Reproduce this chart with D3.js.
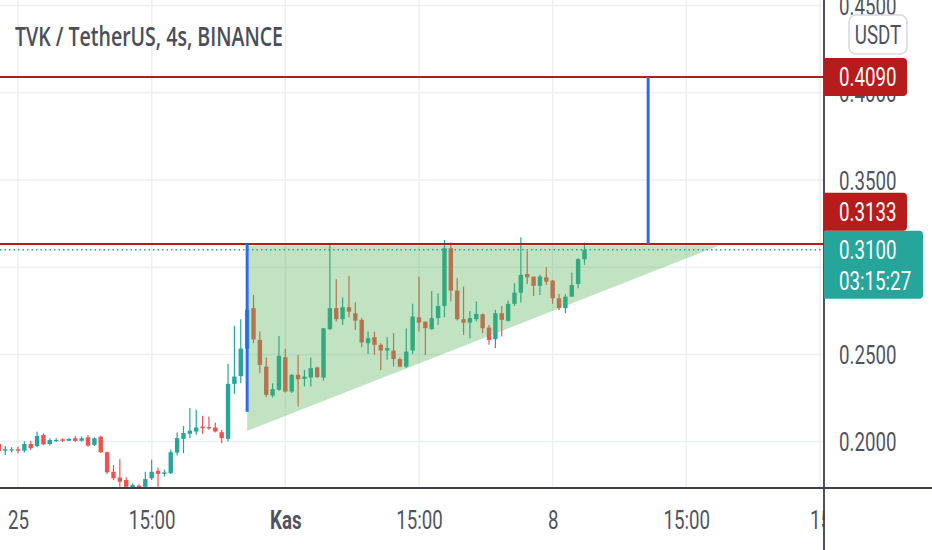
<!DOCTYPE html>
<html>
<head>
<meta charset="utf-8">
<script src="https://d3js.org/d3.v7.min.js"></script>
<style>
  body { margin: 0; background: #fff; }
  svg { display: block; }
</style>
</head>
<body>
<svg id="svg" width="932" height="550"></svg>
<script>
// candle data, 4h bars, index 0 = "Kas" bar
const startIndex = -45;
const opens = [0.1986,0.1948,0.1950,0.1956,0.1948,0.1986,0.1975,0.2038,0.1986,0.2004,0.2013,0.2005,0.2019,0.2005,0.2025,0.1981,0.2028,0.1939,0.1827,0.1794,0.1780,0.1736,0.1747,0.1741,0.1790,0.1832,0.1815,0.1819,0.1937,0.2016,0.2045,0.2058,0.2086,0.2083,0.2081,0.2054,0.2016,0.2331,0.2375,0.2533,0.2765,0.2583,0.2430,0.2264,0.2297,0.2484,0.2287,0.2383,0.2360,0.2367,0.2425,0.2367,0.2645,0.2765,0.2702,0.2771,0.2736,0.2698,0.2564,0.2599,0.2555,0.2522,0.2522,0.2473,0.2430,0.2522,0.2713,0.2688,0.2645,0.2708,0.2778,0.3109,0.2866,0.2702,0.2682,0.2702,0.2730,0.2654,0.2587,0.2736,0.2692,0.2790,0.2854,0.2961,0.2946,0.2893,0.2942,0.2923,0.2822,0.2765,0.2831,0.2904,0.3046];
const highs = [0.1998,0.1975,0.1967,0.1971,0.2002,0.2005,0.2057,0.2047,0.2019,0.2019,0.2019,0.2021,0.2034,0.2029,0.2038,0.2025,0.2034,0.1943,0.1866,0.1899,0.1795,0.1761,0.1755,0.1827,0.1896,0.1851,0.1838,0.1953,0.2052,0.2090,0.2192,0.2182,0.2148,0.2144,0.2109,0.2068,0.2446,0.2663,0.2702,0.2812,0.2841,0.2631,0.2482,0.2335,0.2606,0.2532,0.2388,0.2497,0.2411,0.2482,0.2430,0.2652,0.3130,0.2931,0.2826,0.2950,0.2799,0.2708,0.2631,0.2631,0.2564,0.2599,0.2622,0.2482,0.2648,0.2790,0.2946,0.2688,0.2864,0.2851,0.3156,0.3141,0.2937,0.2889,0.2749,0.2803,0.2735,0.2669,0.2755,0.2778,0.2807,0.2908,0.3172,0.3095,0.2946,0.2956,0.3000,0.2927,0.2847,0.2845,0.2969,0.3051,0.3141];
const lows = [0.1935,0.1923,0.1939,0.1933,0.1937,0.1952,0.1967,0.1980,0.1977,0.1997,0.1998,0.2004,0.1997,0.2000,0.1971,0.1975,0.1935,0.1814,0.1780,0.1741,0.1723,0.1723,0.1723,0.1723,0.1780,0.1741,0.1800,0.1814,0.1920,0.1934,0.2020,0.2039,0.2045,0.2068,0.2052,0.1991,0.2000,0.2274,0.2335,0.2514,0.2564,0.2392,0.2255,0.2253,0.2291,0.2281,0.2278,0.2201,0.2316,0.2316,0.2364,0.2350,0.2640,0.2688,0.2669,0.2713,0.2640,0.2541,0.2503,0.2497,0.2411,0.2469,0.2430,0.2427,0.2421,0.2503,0.2631,0.2497,0.2640,0.2669,0.2713,0.2803,0.2695,0.2612,0.2593,0.2688,0.2622,0.2555,0.2536,0.2602,0.2688,0.2778,0.2797,0.2904,0.2835,0.2841,0.2898,0.2790,0.2755,0.2736,0.2831,0.2879,0.3013];
const closes = [0.1946,0.1956,0.1956,0.1948,0.1986,0.1962,0.2032,0.1984,0.2009,0.2009,0.2005,0.2015,0.2004,0.2019,0.1977,0.2019,0.1939,0.1824,0.1790,0.1770,0.1741,0.1751,0.1739,0.1785,0.1827,0.1815,0.1823,0.1939,0.2020,0.2049,0.2063,0.2081,0.2077,0.2077,0.2058,0.2020,0.2331,0.2373,0.2533,0.2757,0.2587,0.2440,0.2268,0.2301,0.2492,0.2287,0.2383,0.2358,0.2373,0.2421,0.2370,0.2650,0.2765,0.2702,0.2771,0.2745,0.2694,0.2568,0.2593,0.2555,0.2522,0.2536,0.2473,0.2430,0.2516,0.2717,0.2682,0.2650,0.2708,0.2778,0.3109,0.2866,0.2702,0.2682,0.2708,0.2732,0.2650,0.2583,0.2736,0.2698,0.2790,0.2854,0.2956,0.2942,0.2893,0.2946,0.2917,0.2822,0.2765,0.2831,0.2898,0.3046,0.3100];

// axis ticks
const timeTicks = [-42, -21, 0, 21, 42, 63, 84];
const timeLabels = ["25", "15:00", "Kas", "15:00", "8", "15:00", "15"];
const priceTicks = [0.20, 0.25, 0.30, 0.35, 0.40, 0.45];
const priceLabelTicks = [0.20, 0.25, 0.35, 0.40, 0.45]; // 0.30 sits under the last-price tag

// drawings
const levels = [0.4090, 0.3133];
const lastPrice = 0.3100;
const countdown = "03:15:27";
const triangle = [[-6, 0.3125], [68.2, 0.3125], [-6, 0.2061]];
const blueLines = [[-6, 0.3133, 0.2171], [57, 0.4090, 0.3133]];
const title = "TVK / TetherUS, 4s, BINANCE";

const dims = { width: 932, height: 550 };
const plot = { right: 824, bottom: 488 };
const sx = 0.72; // text squeeze

const upColor = "#26a69a", downColor = "#ef5350";
const levelColor = "#b71c1c", blue = "#2f6be8";
const textColor = "#50535e";

let xScale = d3.scaleLinear().domain([-42, 84]).range([18, 820]);
let yScale = d3.scaleLinear().domain([0.20, 0.45]).range([441.6, 5.6]);

const candles = opens.map((o, k) => ({
    i: startIndex + k, o: o, h: highs[k], l: lows[k], c: closes[k]
}));

let mySvg = d3.select("#svg");
mySvg.append("rect").attr("width", dims.width).attr("height", dims.height).attr("fill", "#fff");

mySvg.append("defs").append("clipPath").attr("id", "plotclip")
    .append("rect").attr("width", plot.right).attr("height", plot.bottom);

let pane = mySvg.append("g").attr("clip-path", "url(#plotclip)");

// grid
pane.selectAll(".vgrid").data(timeTicks).enter().append("line")
    .attr("x1", d => xScale(d)).attr("x2", d => xScale(d))
    .attr("y1", 0).attr("y2", plot.bottom)
    .attr("stroke", "#eceff3").attr("stroke-width", 1.5);
pane.selectAll(".hgrid").data(priceTicks).enter().append("line")
    .attr("x1", 0).attr("x2", plot.right)
    .attr("y1", d => yScale(d)).attr("y2", d => yScale(d))
    .attr("stroke", "#eceff3").attr("stroke-width", 1.5);

// candles
let cg = pane.selectAll(".candle").data(candles).enter().append("g");
cg.append("line")
    .attr("x1", d => xScale(d.i)).attr("x2", d => xScale(d.i))
    .attr("y1", d => yScale(d.h)).attr("y2", d => yScale(d.l))
    .attr("stroke", d => d.c >= d.o ? upColor : downColor).attr("stroke-width", 1.2);
cg.append("rect")
    .attr("x", d => xScale(d.i) - 2.2).attr("width", 4.4)
    .attr("y", d => yScale(Math.max(d.o, d.c)))
    .attr("height", d => Math.max(1.2, Math.abs(yScale(d.o) - yScale(d.c))))
    .attr("fill", d => d.c >= d.o ? upColor : downColor);

// triangle pattern
pane.append("path")
    .attr("d", d3.line().x(d => xScale(d[0])).y(d => yScale(d[1]))(triangle) + "Z")
    .attr("fill", "#4caf50").attr("fill-opacity", 0.35);

// last price dotted line
pane.append("line")
    .attr("x1", 0).attr("x2", plot.right)
    .attr("y1", yScale(lastPrice)).attr("y2", yScale(lastPrice))
    .attr("stroke", upColor).attr("stroke-width", 1.5).attr("stroke-dasharray", "1.5,3");

// horizontal levels
pane.selectAll(".level").data(levels).enter().append("line")
    .attr("x1", 0).attr("x2", plot.right)
    .attr("y1", d => yScale(d)).attr("y2", d => yScale(d))
    .attr("stroke", levelColor).attr("stroke-width", 2);

// blue verticals
pane.selectAll(".vline").data(blueLines).enter().append("line")
    .attr("x1", d => xScale(d[0])).attr("x2", d => xScale(d[0]))
    .attr("y1", d => yScale(d[1])).attr("y2", d => yScale(d[2]))
    .attr("stroke", blue).attr("stroke-width", 3);

// time axis
let xAxis = d3.axisBottom(xScale).tickValues(timeTicks)
    .tickFormat((d, k) => timeLabels[k]).tickSize(0).tickPadding(0);
let xg = mySvg.append("g").attr("transform", `translate(0, ${plot.bottom})`).call(xAxis);
xg.select(".domain").remove();
xg.selectAll("text")
    .attr("y", 41).attr("dy", null)
    .attr("transform", `scale(${sx},1)`)
    .attr("fill", textColor)
    .style("font-family", "Roboto").style("font-size", "26px")
    .style("font-weight", (d, k) => timeLabels[k] === "Kas" ? 700 : 400);

// price scale panel
mySvg.append("rect").attr("x", plot.right + 0.5).attr("y", 0)
    .attr("width", dims.width - plot.right).attr("height", plot.bottom).attr("fill", "#fff");
mySvg.append("rect").attr("x", plot.right + 0.5).attr("y", plot.bottom + 1)
    .attr("width", dims.width - plot.right).attr("height", dims.height - plot.bottom).attr("fill", "#fff");

let yAxis = d3.axisRight(yScale).tickValues(priceLabelTicks)
    .tickFormat(d3.format(".4f")).tickSize(0).tickPadding(0);
let yg = mySvg.append("g").attr("transform", `translate(${plot.right + 15}, 0)`).call(yAxis);
yg.select(".domain").remove();
yg.selectAll("text")
    .attr("x", 0).attr("dy", "0.35em")
    .attr("transform", `scale(${sx},1)`)
    .attr("fill", textColor)
    .style("font-family", "Roboto").style("font-size", "26px");

// axis borders
mySvg.append("line").attr("x1", 0).attr("x2", dims.width)
    .attr("y1", plot.bottom).attr("y2", plot.bottom)
    .attr("stroke", "#3c3f47").attr("stroke-width", 1.8);
mySvg.append("line").attr("x1", plot.right).attr("x2", plot.right)
    .attr("y1", 0).attr("y2", dims.height)
    .attr("stroke", "#3c3f47").attr("stroke-width", 1.8);

// price labels
function label(yTop, h, w, fill, lines) {
    let g = mySvg.append("g");
    g.append("path")
        .attr("d", `M${plot.right},${yTop}h${w - 4}q4,0 4,4v${h - 8}q0,4 -4,4h${-(w - 4)}Z`)
        .attr("fill", fill);
    lines.forEach((t, k) => {
        g.append("text")
            .attr("transform", `translate(${plot.right + 15},${yTop + 19 + k * 31}) scale(${sx},1)`)
            .attr("dy", "0.35em")
            .attr("fill", "#fff")
            .style("font-family", "Roboto").style("font-size", "26px")
            .text(t);
    });
}
const lastY = yScale(lastPrice);
label(yScale(levels[0]) - 19, 38, 83, levelColor, [levels[0].toFixed(4)]);
label(lastY - 19, 68, 99, upColor, [lastPrice.toFixed(4), countdown]);
label(lastY - 57, 38, 83, levelColor, [levels[1].toFixed(4)]);

// currency badge
mySvg.append("rect").attr("x", 849).attr("y", 15).attr("width", 58).attr("height", 39)
    .attr("rx", 7).attr("fill", "#fff").attr("stroke", "#d6d9de").attr("stroke-width", 1.5);
mySvg.append("text")
    .attr("transform", `translate(878,35) scale(${sx},1)`)
    .attr("dy", "0.35em").attr("text-anchor", "middle")
    .attr("fill", textColor)
    .style("font-family", "Roboto").style("font-size", "26px")
    .text("USDT");

// title
mySvg.append("text")
    .attr("x", 15).attr("y", 46)
    .attr("textLength", 268).attr("lengthAdjust", "spacingAndGlyphs")
    .attr("fill", "#4a4e59")
    .style("font-family", "Open Sans").style("font-weight", 600).style("font-size", "27px")
    .text(title);
</script>
</body>
</html>
